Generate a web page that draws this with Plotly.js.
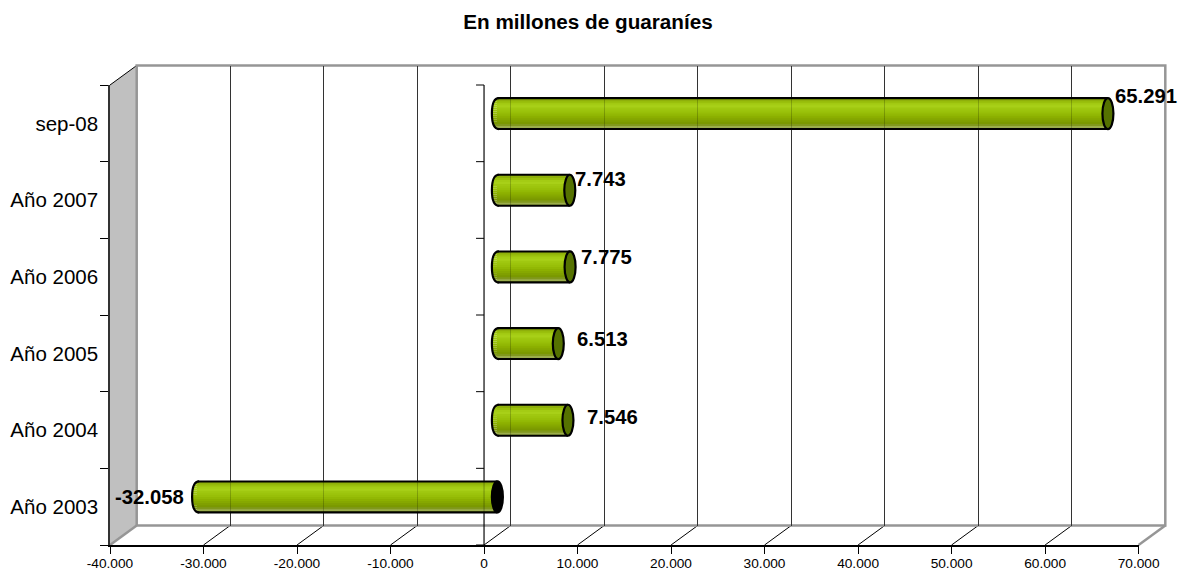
<!DOCTYPE html>
<html>
<head>
<meta charset="utf-8">
<script src="https://cdn.plot.ly/plotly-3.0.1.min.js"></script>
<style>html,body{margin:0;padding:0;background:#fff}#chart{width:1191px;height:573px}</style>
</head>
<body>
<div id="chart"></div>
<script>
// ---- data ----
const categories = ["Año 2003", "Año 2004", "Año 2005", "Año 2006", "Año 2007", "sep-08"];
const values = [-32058, 7546, 6513, 7775, 7743, 65291];
const valueLabels = ["-32.058", "7.546", "6.513", "7.775", "7.743", "65.291"];
const tickValues = [-40000, -30000, -20000, -10000, 0, 10000, 20000, 30000, 40000, 50000, 60000, 70000];
const tickLabels = ["-40.000", "-30.000", "-20.000", "-10.000", "0", "10.000", "20.000", "30.000", "40.000", "50.000", "60.000", "70.000"];
const chartTitle = "En millones de guaraníes";

// ---- layout constants (pixels) ----
const W = 1191, H = 573;
const left = 110, right = 1138.6, top_ = 85, bottom = 545;
const depthX = 26.7, depthY = 19.5;
const range = [-40000, 70000];
const catRange = [-0.5, 5.5];
const plotW = right - left, plotH = bottom - top_;
const catH = plotH / categories.length;
const unit = plotW / (range[1] - range[0]);
const barHalfH = 16.5, capHalfW = 5.5;
const labelOffsets = [[-12, 0], [17, 3], [17, 5], [9, 10], [3, 11], [5.5, 18]];
const stripColors = ["#000000", "#8fb00a", "#9ac00c", "#a4cc14", "#a8d018", "#a0c810", "#9cc40c",
  "#98bf08", "#92b804", "#8cb000", "#86a800", "#80a000", "#7a9800", "#80981c", "#9aac4c", "#000000"];
const stripH = (2 * barHalfH) / stripColors.length;
const capFillPos = "#557200", capFillNeg = "#000000";
const wallLine = "#969696";

const domX = d => [(left + d) / W, (right + d) / W];
const domY = d => [(H - bottom + d) / H, (H - top_ + d) / H];

// ---- traces: the cylinder bodies are library bars, one per gradient strip ----
const traces = [
  { type: "scatter", mode: "none", xaxis: "x", yaxis: "y", x: [0], y: [0], hoverinfo: "skip", showlegend: false },
  { type: "scatter", mode: "none", xaxis: "x2", yaxis: "y2", x: [0], y: [categories[0]], hoverinfo: "skip", showlegend: false },
  { type: "scatter", mode: "none", xaxis: "x3", yaxis: "y3", x: [0], y: [0.5], hoverinfo: "skip", showlegend: false }
];
stripColors.forEach((c, i) => {
  const topEdge = barHalfH - i * stripH;
  const lowEdge = i === stripColors.length - 1 ? -barHalfH : -barHalfH + stripH;
  traces.push({
    type: "bar", orientation: "h", xaxis: "x4", yaxis: "y4",
    y: categories, x: values, base: 0,
    width: (topEdge - lowEdge) / catH,
    offset: lowEdge / catH,
    marker: { color: c, line: { width: 0 } },
    hoverinfo: "skip", showlegend: false
  });
});
traces.push({ type: "scatter", mode: "none", xaxis: "x5", yaxis: "y5", x: [0], y: [0.5], hoverinfo: "skip", showlegend: false });

// ---- scenery, on a page-wide axis pair with the same scale as the front axes ----
const shapes = [];
const sceneBase = { xref: "x", yref: "y", xsizemode: "pixel", ysizemode: "pixel" };
shapes.push({ ...sceneBase, type: "path", layer: "below", xanchor: range[0], yanchor: catRange[0],
  path: `M0 0 L${depthX} ${depthY} L${depthX} ${plotH + depthY} L0 ${plotH} Z`,
  fillcolor: "#c0c0c0", line: { width: 0 } });
const depthLine = (xa, ya, color, width) => ({ ...sceneBase, type: "line", layer: "below",
  xanchor: xa, yanchor: ya, x0: 0, x1: depthX, y0: 0, y1: depthY, line: { color, width } });
tickValues.forEach((t, i) => {
  const edge = i === 0 || i === tickValues.length - 1;
  shapes.push(depthLine(t, catRange[0], edge ? wallLine : "#000000", edge ? 2.5 : 1));
});
shapes.push(depthLine(range[0], catRange[1], "#000000", 1));
shapes.push({ ...sceneBase, type: "rect", layer: "below", xanchor: range[0], yanchor: catRange[0],
  x0: depthX, x1: depthX + plotW, y0: depthY, y1: depthY + plotH,
  fillcolor: "rgba(0,0,0,0)", line: { color: wallLine, width: 2.5 } });
shapes.push({ type: "line", layer: "below", xref: "x", yref: "y", x0: 0, x1: 0, y0: catRange[0], y1: catRange[1],
  line: { color: "#000000", width: 1 } });
for (let b = 0; b <= categories.length; b++) {
  shapes.push({ type: "line", layer: "below", xref: "x", yref: "y", xsizemode: "pixel", xanchor: 0, x0: -8, x1: 0,
    y0: catRange[0] + b, y1: catRange[0] + b, line: { color: "#000000", width: 1 } });
}
// faint zero line showing through the lowest cylinder
shapes.push({ type: "line", layer: "above", xref: "x", yref: "y", x0: 0, x1: 0, y0: catRange[0], y1: catRange[1],
  line: { color: "rgba(0,0,0,0.3)", width: 1 } });

// ---- cylinder caps ----
const w = capHalfW, h = barHalfH - 1;
values.forEach((v, k) => {
  const lo = Math.min(v, 0), hi = Math.max(v, 0);
  const cap = { type: "path", layer: "above", xref: "x4", yref: "y4", xsizemode: "pixel", ysizemode: "pixel",
    xanchor: lo, yanchor: k };
  const arc = `M1.5 ${h} C${-w * 0.6} ${h} ${-w} ${h * 0.6} ${-w} 0 C${-w} ${-h * 0.6} ${-w * 0.6} ${-h} 1.5 ${-h}`;
  // gradient on the near half of the low end, then its outline
  stripColors.forEach((c, i) => {
    if (i === 0 || i === stripColors.length - 1) return;
    const y1 = barHalfH - i * stripH, y0 = y1 - stripH, mid = (y0 + y1) / 2;
    const ext = (w - 0.5) * Math.sqrt(Math.max(0, 1 - Math.pow(mid / h, 2)));
    shapes.push({ type: "rect", layer: "above", xref: "x4", yref: "y4",
      xsizemode: "pixel", ysizemode: "pixel", xanchor: lo, yanchor: k,
      x0: -ext, x1: 1, y0, y1, fillcolor: c, line: { width: 0 } });
  });
  shapes.push({ ...cap, path: arc, fillcolor: "rgba(0,0,0,0)", line: { color: "#000000", width: 2.2 } });
  shapes.push({ type: "circle", layer: "above", xref: "x4", yref: "y4",
    xsizemode: "pixel", ysizemode: "pixel", xanchor: hi, yanchor: k,
    x0: -w, x1: w, y0: -h, y1: h,
    fillcolor: v < 0 ? capFillNeg : capFillPos, line: { color: "#000000", width: 2.2 } });
});

// ---- data labels ----
const annotations = values.map((v, k) => ({
  xref: "x4", yref: "y4", x: v, y: k, text: "<b>" + valueLabels[k] + "</b>", showarrow: false,
  xanchor: v < 0 ? "right" : "left", yanchor: "middle",
  xshift: labelOffsets[k][0], yshift: labelOffsets[k][1],
  font: { family: "Liberation Sans, Arial, sans-serif", size: 20.3, color: "#000000" }
}));

const layout = {
  width: W, height: H, margin: { l: 0, r: 0, t: 0, b: 0 },
  paper_bgcolor: "#ffffff", plot_bgcolor: "rgba(0,0,0,0)",
  barmode: "overlay", showlegend: false,
  font: { family: "Liberation Sans, Arial, sans-serif", color: "#000000" },
  title: { text: "<b>" + chartTitle + "</b>", x: 588 / W, xanchor: "center", y: 1 - 22 / H, yanchor: "middle",
    font: { size: 20.7, color: "#000000" } },
  // page-wide scene axes
  xaxis: { domain: [0, 1], range: [range[0] - left / unit, range[1] + (W - right) / unit], visible: false, anchor: "y" },
  yaxis: { domain: [0, 1], type: "linear", range: [catRange[0] - (H - bottom) / catH, catRange[1] + top_ / catH], visible: false, anchor: "x" },
  // front axes, carrying the labels
  xaxis2: { domain: domX(0), range, tickmode: "array", tickvals: tickValues, ticktext: tickLabels,
    showgrid: false, zeroline: false, showline: true, linecolor: "#000000", linewidth: 1.5,
    ticks: "outside", ticklen: 7, tickcolor: "#000000", tickwidth: 1, ticklabelstandoff: -2,
    tickfont: { size: 13.7, color: "#000000" }, anchor: "y2", automargin: false },
  yaxis2: { domain: domY(0), type: "category", categoryorder: "array", categoryarray: categories, range: catRange,
    tickson: "boundaries", showgrid: false, zeroline: false, showline: true, linecolor: "#333333", linewidth: 1.5,
    ticks: "outside", ticklen: 8, tickcolor: "#000000", tickwidth: 1, ticklabelstandoff: 6,
    tickfont: { size: 20.5, color: "#000000" }, anchor: "x2", automargin: false },
  // back wall gridlines
  xaxis3: { domain: domX(depthX), range, tickmode: "array", tickvals: tickValues.slice(1, -1), showticklabels: false, ticks: "",
    showgrid: true, gridcolor: "#404040", gridwidth: 1, zeroline: false, showline: false, anchor: "y3" },
  yaxis3: { domain: domY(depthY), type: "linear", range: [0, 1], visible: false, anchor: "x3" },
  // mid-depth axes, on which the cylinders sit
  xaxis4: { domain: domX(depthX / 2), range, visible: false, anchor: "y4" },
  yaxis4: { domain: domY(depthY / 2), type: "category", categoryorder: "array", categoryarray: categories,
    range: catRange, visible: false, anchor: "x4" },
  // faint repeat of the wall gridlines, showing through the cylinders
  xaxis5: { domain: domX(depthX), range, tickmode: "array", tickvals: tickValues.slice(1, -1), showticklabels: false, ticks: "",
    showgrid: true, gridcolor: "rgba(0,0,0,0.2)", gridwidth: 1, zeroline: false, showline: false, anchor: "y5" },
  yaxis5: { domain: domY(depthY), type: "linear", range: [0, 1], visible: false, anchor: "x5" },
  shapes, annotations
};
Plotly.newPlot("chart", traces, layout, { displayModeBar: false, responsive: false });
</script>
</body>
</html>
